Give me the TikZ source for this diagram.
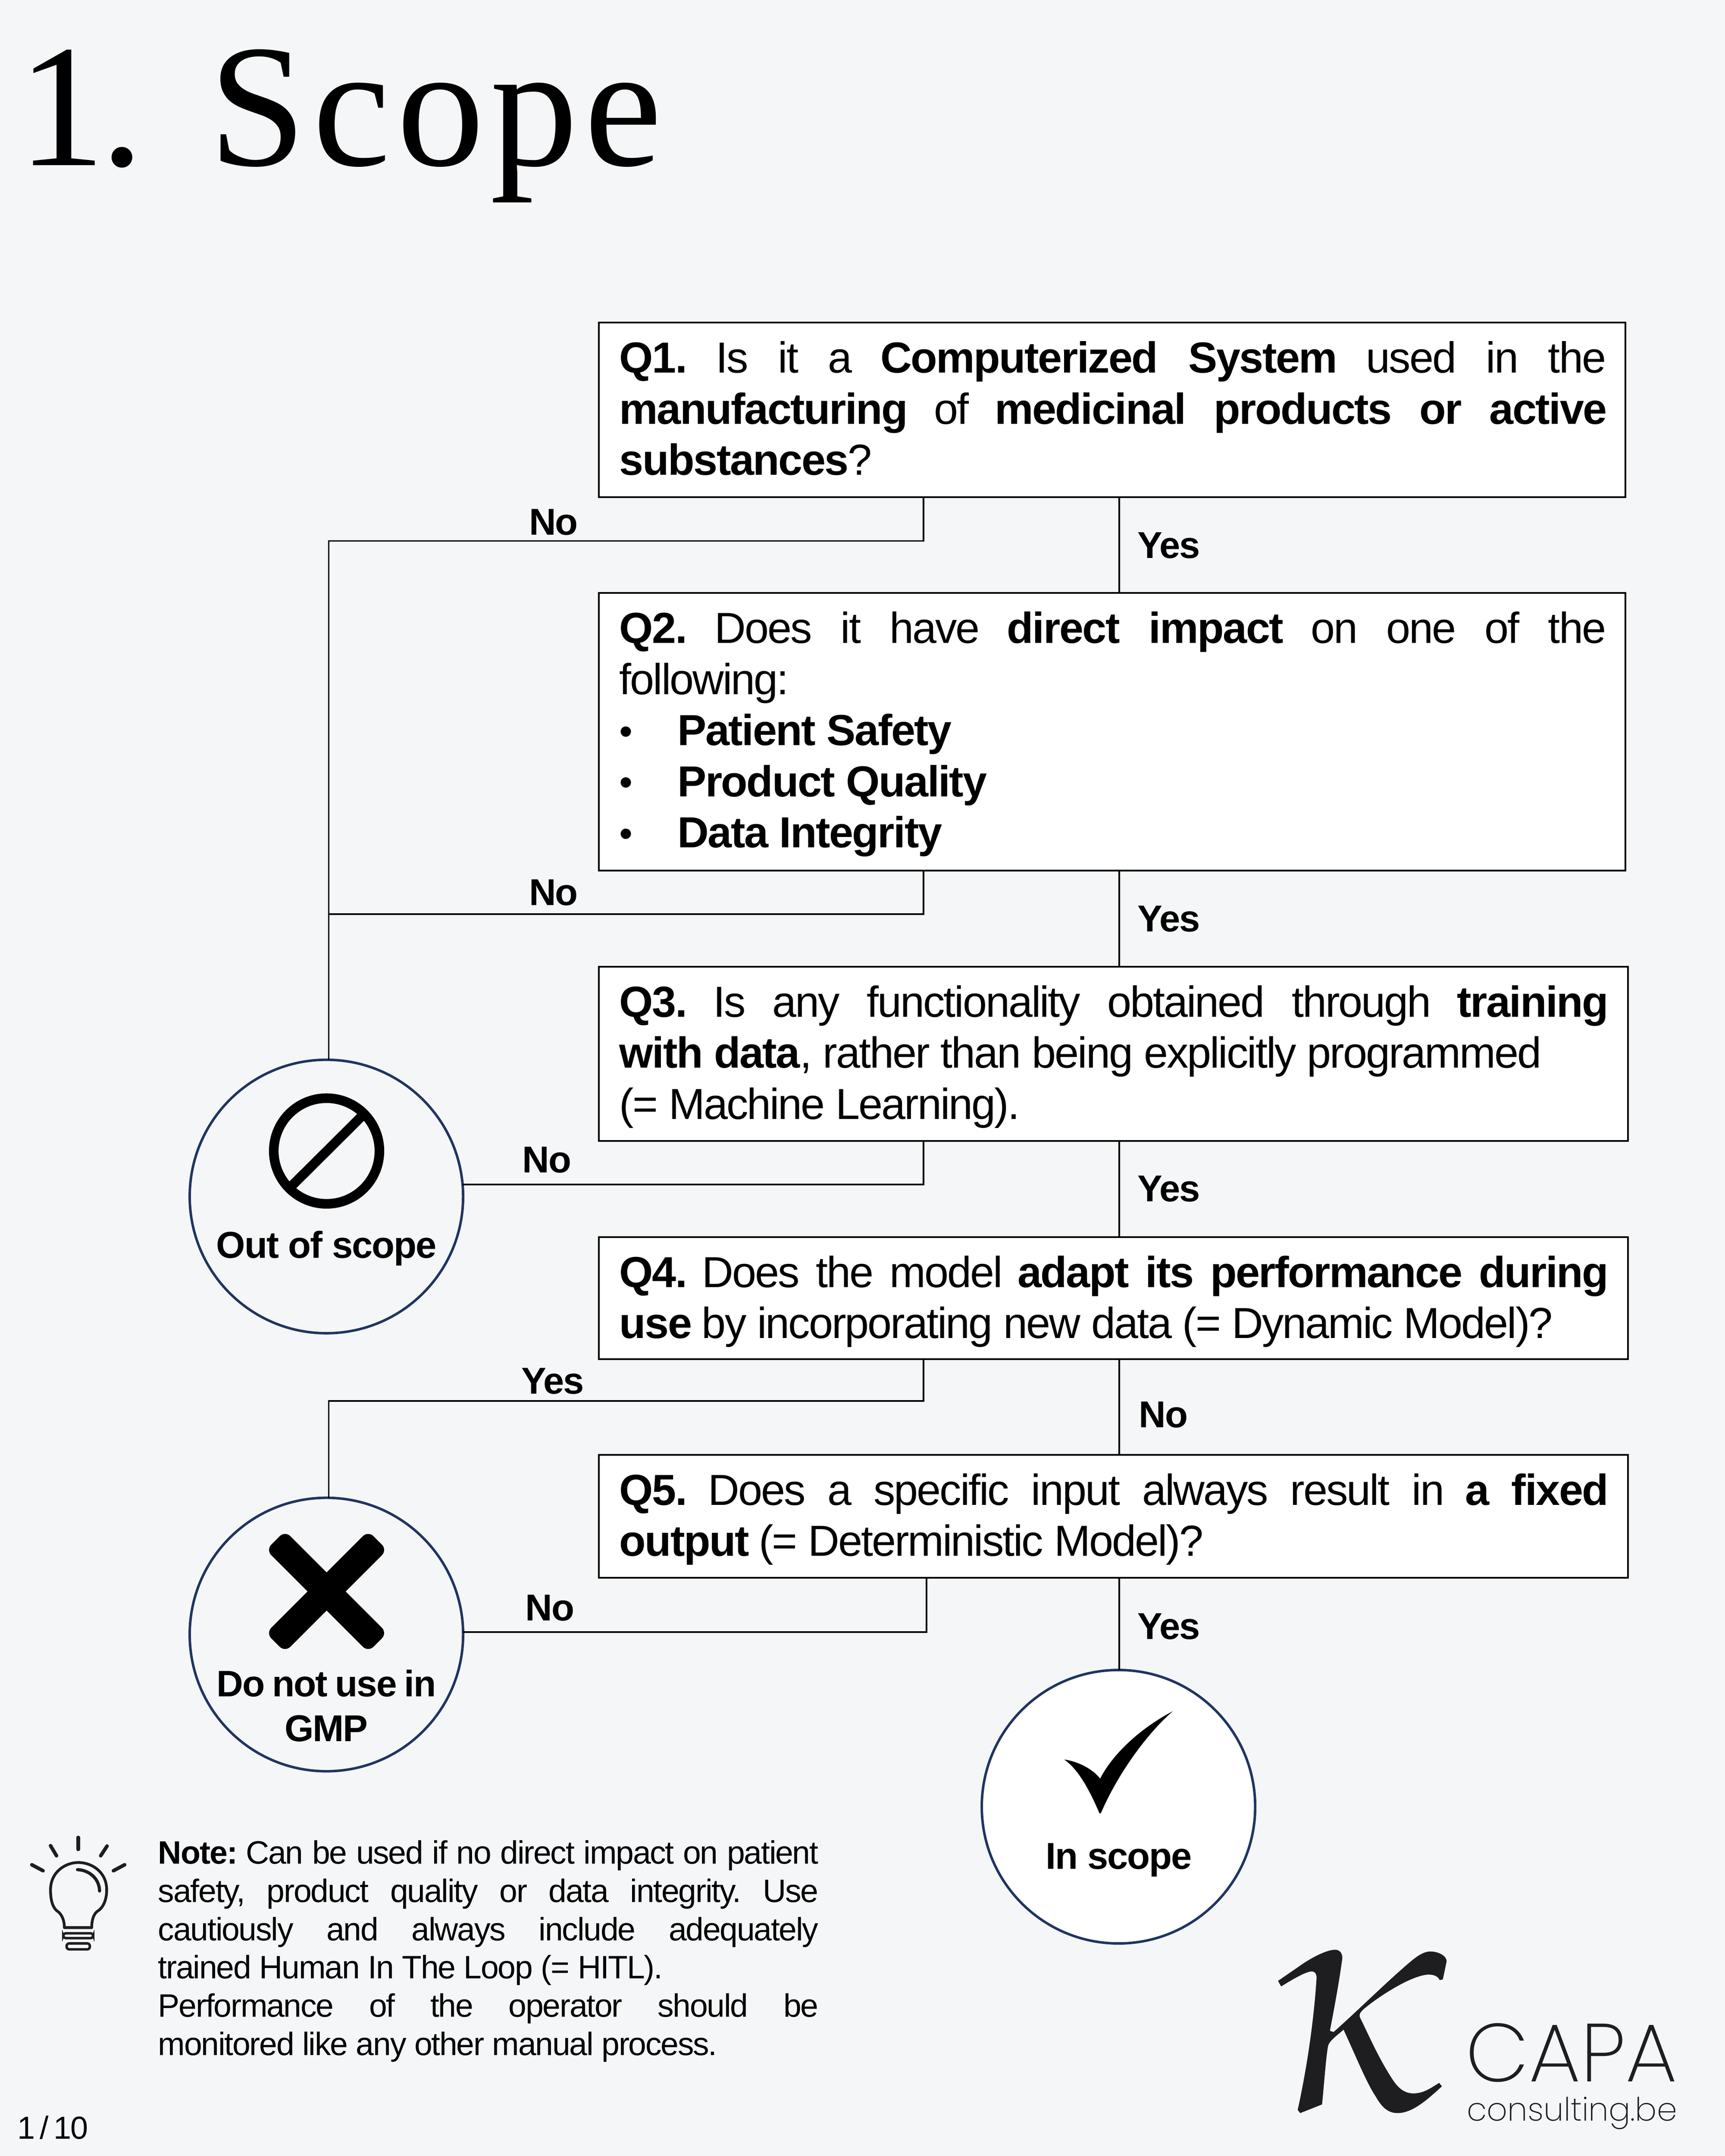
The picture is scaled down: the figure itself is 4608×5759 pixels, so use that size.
\documentclass[tikz,border=0pt]{standalone}
\usepackage{fontspec}
\setmainfont[LetterSpace=-3.0,BoldFeatures={LetterSpace=-2.5}]{Liberation Sans}
\newfontfamily\titlef[LetterSpace=3.6]{Liberation Serif}
\newfontfamily\capaf{Poppins ExtraLight}
\definecolor{pagebg}{HTML}{F5F6F8}
\definecolor{navy}{HTML}{1F3560}
\definecolor{ink}{HTML}{1E1E20}
\frenchspacing
% text block: width, height, first baseline, baseline skip, lines
\newcommand\tbox[5]{\vbox to #2{\hsize=#1 \parindent=0pt \baselineskip=#4 \lineskiplimit=-1000pt
  \vskip\dimexpr#3-#4\relax \prevdepth=0pt #5\vfil}}
\newdimen\lnw
\newcommand\LJ[1]{\hbox to \lnw{#1}}
\newcommand\LN[1]{\hbox to \lnw{#1\hfil}}
\newcommand\LB[1]{\hbox to \lnw{\hbox to 1.55cm{\kern0cm\raisebox{0.03cm}{\fontsize{29pt}{29pt}\selectfont\textbullet}\hfil}\textbf{#1}\hfil}}
% question box: total width, height, text width, lines
\newcommand\qbox[4]{\lnw=#3\relax\hbox to #1{\kern0.55cm\tbox{#3}{#2}{1.34cm}{1.365cm}{#4}\hfil}}
\tikzset{
  qnode/.style={draw=black,fill=white,line width=1.35pt,rectangle,inner sep=0pt,outer sep=0pt,anchor=north west,font=\fontsize{33pt}{38.84pt}\selectfont},
  endnode/.style={draw=navy,line width=1.9pt,circle,minimum size=7.3cm,inner sep=0pt,outer sep=0pt},
  conn/.style={draw=black,line width=1.15pt},
  lbl/.style={anchor=base west,inner sep=0pt,font=\fontsize{28.4pt}{34pt}\selectfont\bfseries},
  endlbl/.style={anchor=base,inner sep=0pt,font=\fontsize{28.4pt}{34pt}\selectfont\bfseries},
  bulbline/.style={draw=ink,line cap=round,line join=round}
}
\begin{document}
\begin{tikzpicture}[x=0.01cm,y=-0.01cm]
\useasboundingbox (0,0) rectangle (4608,5759);
\fill[pagebg] (0,0) rectangle (4608,5759);

\node[anchor=base west,inner sep=0pt,font=\fontsize{133pt}{140pt}\selectfont\titlef] (title) at (47,442) {1\kern-0.14cm.\hspace{1.74cm}Scope};

% question boxes
\node[qnode] (q1) at (1600,862) {\qbox{27.41cm}{4.66cm}{26.34cm}{%
  \LJ{\textbf{Q1.} Is it a \textbf{Computerized System} used in the}
  \LJ{\textbf{manufacturing} of \textbf{medicinal products or active}}
  \LN{\textbf{substances}?}}};
\node[qnode] (q2) at (1600,1584) {\qbox{27.41cm}{7.41cm}{26.34cm}{%
  \LJ{\textbf{Q2.} Does it have \textbf{direct impact} on one of the}
  \LN{following:}
  \LB{Patient Safety}
  \LB{Product Quality}
  \LB{Data Integrity}}};
\node[qnode] (q3) at (1600,2582) {\qbox{27.48cm}{4.65cm}{26.38cm}{%
  \LJ{\textbf{Q3.} Is any functionality obtained through \textbf{training}}
  \LN{\textbf{with data}, rather than being explicitly programmed}
  \LN{(= Machine Learning).}}};
\node[qnode] (q4) at (1600,3304) {\qbox{27.48cm}{3.26cm}{26.38cm}{%
  \LJ{\textbf{Q4.} Does the model \textbf{adapt its performance during}}
  \LN{\textbf{use} by incorporating new data (= Dynamic Model)?}}};
\node[qnode] (q5) at (1600,3886) {\qbox{27.48cm}{3.28cm}{26.38cm}{%
  \LJ{\textbf{Q5.} Does a specific input always result in \textbf{a fixed}}
  \LN{\textbf{output} (= Deterministic Model)?}}};

% end nodes
\node[endnode,fill=pagebg] (oos) at (872,3196) {};
\node[endnode,fill=pagebg] (dnu) at (872,4366) {};
\node[endnode,fill=white] (ins) at (2988,4826) {};

\node[endlbl] (oost) at (872,3360) {Out of scope};
\node[endlbl] (dnut1) at (872,4532) {\fontsize{28pt}{34pt}\selectfont\spaceskip=0.2cm Do not use in};
\node[endlbl] (dnut2) at (872,4651) {GMP};
\node[endlbl] (inst) at (2989,4992) {In scope};

% routing coordinates
\coordinate (spine) at (2990,0);
\coordinate (nox) at (2467,0);
\coordinate (noxb) at (2475,0);
\coordinate (j1) at (878,1445);
\coordinate (j2) at (878,2442);
\coordinate (j4) at (878,3742);

% connectors
\draw[conn] (q1.south -| spine) -- (q2.north -| spine);
\draw[conn] (q2.south -| spine) -- (q3.north -| spine);
\draw[conn] (q3.south -| spine) -- (q4.north -| spine);
\draw[conn] (q4.south -| spine) -- (q5.north -| spine);
\draw[conn] (q5.south -| spine) -- (ins.north -| spine);
\draw[conn] (q1.south -| nox) |- (j1) -- (oos.north -| j1);
\draw[conn] (q2.south -| nox) |- (j2);
\draw[conn] (q3.south -| nox) |- (oos.5.8);
\draw[conn] (q4.south -| nox) |- (j4) -- (dnu.north -| j4);
\draw[conn] (q5.south -| noxb) |- (dnu.1.8);

% connector labels
\node[lbl] (l1n) at (1413,1429) {No};
\node[lbl] (l1y) at (3038,1491) {Yes};
\node[lbl] (l2n) at (1413,2418) {No};
\node[lbl] (l2y) at (3038,2488) {Yes};
\node[lbl] (l3n) at (1395,3132) {No};
\node[lbl] (l3y) at (3038,3209) {Yes};
\node[lbl] (l4y) at (1392,3723) {Yes};
\node[lbl] (l4n) at (3042,3813) {No};
\node[lbl] (l5n) at (1403,4329) {No};
\node[lbl] (l5y) at (3038,4379) {Yes};

% out-of-scope icon
\draw[black,line width=7.3pt] (872.5,3074.5) circle [radius=1.41cm];
\draw[black,line width=7.3pt] (781,3166) -- (964,2984);

% do-not-use icon
\begin{scope}[shift={(872.5,4251)}]
  \fill[black,rounded corners=0.2cm,rotate=45] (-193,-36) rectangle (193,36);
  \fill[black,rounded corners=0.2cm,rotate=-45] (-193,-36) rectangle (193,36);
\end{scope}

% in-scope check mark
\fill[black,line join=round] (2843,4700) .. controls (2870,4703) and (2915,4720) .. (2939,4751)
  .. controls (2970,4690) and (3040,4620) .. (3133,4571)
  .. controls (3070,4625) and (2990,4730) .. (2941,4843)
  .. controls (2935,4845) and (2938,4843) .. (2937,4843)
  .. controls (2910,4780) and (2880,4725) .. (2843,4700) -- cycle;

% note
\node[anchor=north west,inner sep=0pt,font=\fontsize{24.6pt}{29pt}\selectfont] (note) at (422,4898) {\lnw=17.63cm\relax\tbox{17.63cm}{6.2cm}{0.8cm}{1.022cm}{%
  \LJ{\textbf{Note:} Can be used if no direct impact on patient}
  \LJ{safety, product quality or data integrity. Use}
  \LJ{cautiously and always include adequately}
  \LN{trained Human In The Loop (= HITL).}
  \LJ{Performance of the operator should be}
  \LN{monitored like any other manual process.}}};

% page number
\node[anchor=base west,inner sep=0pt,font=\fontsize{24.2pt}{29pt}\selectfont] (pageno) at (46,5714) {1\hspace{0.13cm}/\hspace{0.13cm}10};

% bulb icon
\foreach \xa/\ya/\xb/\yb in {209/4908/209/4940,135/4930/151/4957,286/4931/269/4957,85/4981/115/4997,333/4981/303/4997}
  \draw[bulbline,line width=2.7pt] (\xa,\ya) -- (\xb,\yb);
\draw[bulbline,line width=2.1pt] (172,5149) .. controls (172,5125) and (162,5110) .. (152,5104)
  .. controls (145,5098) and (135,5085) .. (135,5048)
  .. controls (135,5000) and (175,4975) .. (209,4975)
  .. controls (245,4975) and (285,5000) .. (285,5048)
  .. controls (285,5080) and (272,5098) .. (262,5104)
  .. controls (252,5110) and (245,5125) .. (245,5149) -- cycle;
\draw[bulbline,line width=2.4pt] (207,4994) .. controls (235,4995) and (265,5015) .. (266,5051);
\draw[draw=ink,line width=1.9pt,rounded corners=0.065cm] (169,5164) rectangle (249,5177);
\draw[draw=ink,line width=1.9pt,rounded corners=0.07cm] (178,5191) rectangle (240,5207);

% logo
\begin{scope}[shift={(3300,5100)},xscale=0.834,yscale=0.4203]
\fill[ink] (137,455) -- (147,490) .. controls (180,450) and (225,395) .. (245,395)
  .. controls (258,395) and (262,420) .. (260,450)
  .. controls (250,750) and (225,1050) .. (200,1275) -- (208,1295) -- (278,1240)
  .. controls (285,1100) and (290,950) .. (297,870)
  .. controls (300,840) and (320,810) .. (347,765)
  .. controls (390,950) and (420,1100) .. (450,1190)
  .. controls (470,1260) and (490,1295) .. (520,1295)
  .. controls (570,1295) and (620,1200) .. (662,1125) -- (653,1103)
  .. controls (620,1145) and (600,1170) .. (570,1170)
  .. controls (540,1170) and (520,1130) .. (505,1085)
  .. controls (460,950) and (430,810) .. (400,690)
  .. controls (395,670) and (400,650) .. (420,620)
  .. controls (470,540) and (570,415) .. (620,415)
  .. controls (640,415) and (650,430) .. (655,450) -- (665,445) -- (677,330)
  .. controls (677,295) and (650,268) .. (625,268)
  .. controls (600,268) and (575,310) .. (560,335)
  .. controls (480,470) and (400,630) .. (315,780) -- (303,772)
  .. controls (320,600) and (335,430) .. (343,310)
  .. controls (343,280) and (335,257) .. (320,257)
  .. controls (295,257) and (250,300) .. (210,355) -- cycle;
\end{scope}
\node[anchor=base west,inner sep=0pt,text=ink,font=\fontsize{62.5pt}{70pt}\selectfont\capaf] (capa) at (3915,5560) {CAPA};
\node[anchor=base west,inner sep=0pt,text=ink,font=\fontsize{24.5pt}{30pt}\selectfont\capaf] (web) at (3918,5665) {consulting.be};
\end{tikzpicture}
\end{document}
